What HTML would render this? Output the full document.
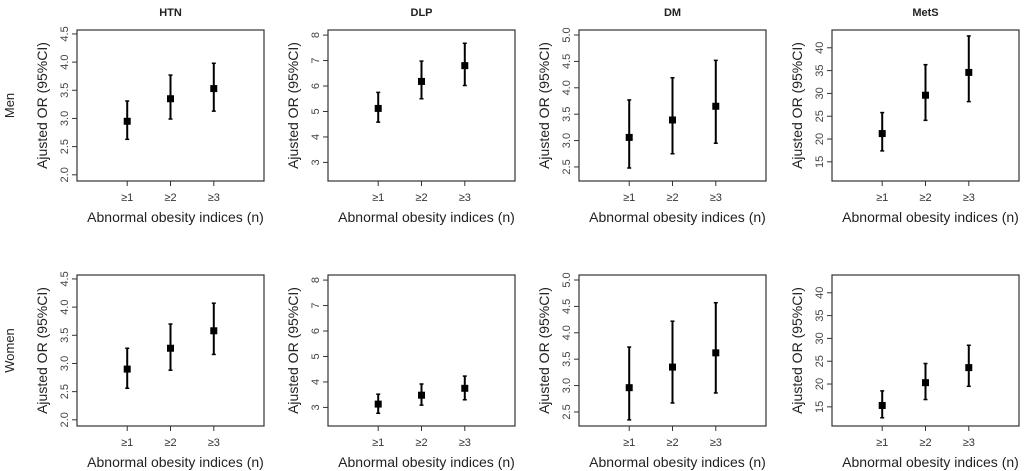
<!DOCTYPE html>
<html><head><meta charset="utf-8"><style>
html,body{margin:0;padding:0;background:#fff;}
svg{display:block;font-family:"Liberation Sans",Arial,sans-serif;}
</style></head><body>
<svg id="chart" width="1024" height="471" viewBox="0 0 1024 471" xmlns="http://www.w3.org/2000/svg"></svg>
<script>
const diseases = ["HTN","DLP","DM","MetS"];
const groups = ["Men","Women"];
const categories = ["≥1","≥2","≥3"];
const yTicks = [[2.0,2.5,3.0,3.5,4.0,4.5],[3,4,5,6,7,8],[2.5,3.0,3.5,4.0,4.5,5.0],[15,20,25,30,35,40]];
const yTickLabels = [["2.0","2.5","3.0","3.5","4.0","4.5"],["3","4","5","6","7","8"],["2.5","3.0","3.5","4.0","4.5","5.0"],["15","20","25","30","35","40"]];
const yLimits = [[1.89,4.57],[2.27,8.2],[2.234,5.095],[10.8,43.9]];
// estimates [men, women]
const htnOR = [[2.95,3.35,3.53],[2.90,3.27,3.58]];
const htnLo = [[2.63,2.99,3.13],[2.56,2.88,3.16]];
const htnHi = [[3.31,3.77,3.98],[3.27,3.70,4.07]];
const dlpOR = [[5.12,6.18,6.80],[3.13,3.48,3.75]];
const dlpLo = [[4.58,5.50,6.02],[2.77,3.09,3.30]];
const dlpHi = [[5.75,6.98,7.68],[3.52,3.92,4.23]];
const dmOR = [[3.06,3.39,3.65],[2.96,3.35,3.62]];
const dmLo = [[2.48,2.75,2.95],[2.35,2.67,2.86]];
const dmHi = [[3.77,4.19,4.52],[3.73,4.22,4.57]];
const metsOR = [[21.2,29.6,34.6],[15.3,20.3,23.6]];
const metsLo = [[17.4,24.1,28.2],[12.6,16.6,19.5]];
const metsHi = [[25.8,36.3,42.6],[18.5,24.5,28.5]];
const ORs=[htnOR,dlpOR,dmOR,metsOR], LOs=[htnLo,dlpLo,dmLo,metsLo], HIs=[htnHi,dlpHi,dmHi,metsHi];

const NS="http://www.w3.org/2000/svg";
const svg=document.getElementById('chart');
function mk(tag,attrs,parent){const e=document.createElementNS(NS,tag);for(const k in attrs)e.setAttribute(k,attrs[k]);(parent||svg).appendChild(e);return e;}
const boxLefts=[77,328,579,832], boxW=187, boxTops=[30,275], boxH=151;

groups.forEach((g,gi)=>{
  const t=mk('text',{x:0,y:0,'font-size':13,fill:'#222','text-anchor':'middle',transform:`translate(14,${boxTops[gi]+boxH/2}) rotate(-90)`});
  t.textContent=g;
  
  
});

diseases.forEach((d,di)=>{
  const L=boxLefts[di];
  const tt=mk('text',{x:L+boxW/2,y:16,'font-size':11,'font-weight':'bold',fill:'#222','text-anchor':'middle'});
  tt.textContent=d;
  
  
  groups.forEach((g,gi)=>{
    const T=boxTops[gi];
    const gr=mk('g',{});
    
    
    const [y0,y1]=yLimits[di];
    const ys=v=>T+boxH-(v-y0)/(y1-y0)*boxH;
    const xs=i=>L+(i+1+0.16)*(boxW/4.32);
    mk('rect',{x:L,y:T,width:boxW,height:boxH,fill:'none',stroke:'#333','stroke-width':1.2},gr);
    yTicks[di].forEach((v,k)=>{
      const y=ys(v);
      mk('line',{x1:L-5,x2:L,y1:y,y2:y,stroke:'#333','stroke-width':1},gr);
      const tl=mk('text',{x:0,y:0,'font-size':11,fill:'#444','text-anchor':'middle',transform:`translate(${L-9},${y}) rotate(-90)`},gr);
      tl.textContent=yTickLabels[di][k];
      
      
    });
    categories.forEach((c,i)=>{
      const x=xs(i);
      mk('line',{x1:x,x2:x,y1:T+boxH,y2:T+boxH+5,stroke:'#333','stroke-width':1},gr);
      const xl=mk('text',{x:x,y:T+boxH+20,'font-size':11,fill:'#333','text-anchor':'middle'},gr);
      xl.textContent=c;
      
      
      const lo=ys(LOs[di][gi][i]), hi=ys(HIs[di][gi][i]), m=ys(ORs[di][gi][i]);
      const eb=mk('g',{},gr);
      
      
      mk('line',{x1:x,x2:x,y1:lo,y2:hi,stroke:'#000','stroke-width':2},eb);
      mk('line',{x1:x-2,x2:x+2,y1:lo,y2:lo,stroke:'#000','stroke-width':1.5},eb);
      mk('line',{x1:x-2,x2:x+2,y1:hi,y2:hi,stroke:'#000','stroke-width':1.5},eb);
      const pt=mk('rect',{x:x-3.5,y:m-3.5,width:7,height:7,fill:'#000'},gr);
      
      
    });
    const yt=mk('text',{x:0,y:0,'font-size':14,fill:'#222','text-anchor':'middle',transform:`translate(${L-30},${T+boxH/2}) rotate(-90)`},gr);
    yt.textContent='Ajusted OR (95%CI)';
    
    
    const xt=mk('text',{x:L+boxW/2+5,y:T+boxH+41,'font-size':14,fill:'#222','text-anchor':'middle'},gr);
    xt.textContent='Abnormal obesity indices (n)';
    
    
  });
});
</script>
</body></html>
